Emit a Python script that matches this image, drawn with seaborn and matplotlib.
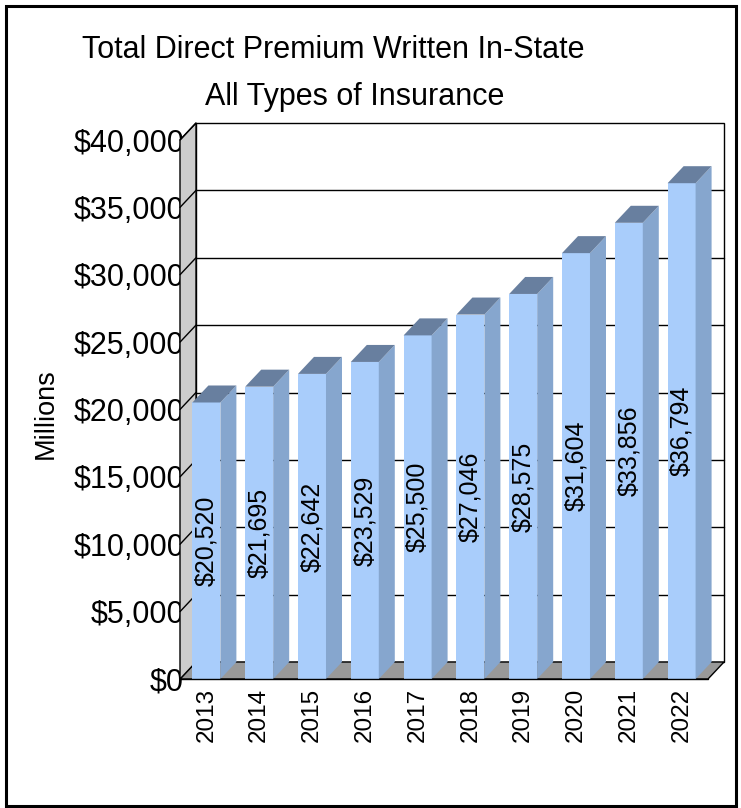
import matplotlib
matplotlib.use("Agg")
import matplotlib.pyplot as plt
from matplotlib.patches import Polygon, Rectangle
from matplotlib.lines import Line2D
import seaborn as sns
import pandas as pd

years = ["2013", "2014", "2015", "2016", "2017", "2018", "2019", "2020", "2021", "2022"]
premiums = [20520, 21695, 22642, 23529, 25500, 27046, 28575, 31604, 33856, 36794]
yticks = [0, 5000, 10000, 15000, 20000, 25000, 30000, 35000, 40000]
ytick_labels = ["$0", "$5,000", "$10,000", "$15,000", "$20,000", "$25,000", "$30,000", "$35,000", "$40,000"]
title_line1 = "Total Direct Premium Written In-State"
title_line2 = "All Types of Insurance"
ylabel = "Millions"

sns.set_style("white")
plt.rcParams["font.family"] = ["Liberation Sans", "DejaVu Sans"]
plt.rcParams["text.color"] = "black"
plt.rcParams["axes.labelcolor"] = "black"
plt.rcParams["xtick.color"] = "black"
plt.rcParams["ytick.color"] = "black"

FRONT = "#A9CDFB"
SIDE = "#86A6CE"
TOP = "#687F9F"
FLOOR = "#999999"
WALL = "#CCCCCC"

W, H = 741, 808
fig = plt.figure(figsize=(W / 100, H / 100), dpi=100)
# front plane of the 3D box in pixels: x 180..708, y 679 (0) .. 140 (40000)
ax = fig.add_axes([180 / W, (H - 679) / H, 528 / W, 539 / H])
ax.patch.set_visible(False)

df = pd.DataFrame({"year": years, "premium": premiums})
sns.barplot(data=df, x="year", y="premium", color=FRONT, saturation=1,
            width=0.53, ax=ax, edgecolor="none", linewidth=0, zorder=3)

ax.set_xlim(-0.5, len(years) - 0.5)
ax.set_ylim(0, 40000)
for s in ax.spines.values():
    s.set_visible(False)

# depth offset (16 px right, 17 px up) in data units
dxd = 16 / (528 / len(years))
dyd = 17 * 40000 / 539
x0w, x1w = -0.5, len(years) - 0.5
ymax = 40000

bar_patches = [p for p in ax.patches if isinstance(p, Rectangle)]

# back wall
ax.add_patch(Rectangle((x0w + dxd, dyd), x1w - x0w, ymax, facecolor="white",
                       edgecolor="black", lw=1, zorder=0.5, clip_on=False))
# gridlines on back wall
for t in yticks[1:-1]:
    ax.add_line(Line2D([x0w + dxd, x1w + dxd], [t + dyd, t + dyd], color="black",
                       lw=1, zorder=0.6, clip_on=False))
# floor
ax.add_patch(Polygon([(x0w, 0), (x1w, 0), (x1w + dxd, dyd), (x0w + dxd, dyd)],
                     closed=True, facecolor=FLOOR, edgecolor="black", lw=1,
                     zorder=0.7, clip_on=False))
# left wall
ax.add_patch(Polygon([(x0w, 0), (x0w, ymax), (x0w + dxd, ymax + dyd), (x0w + dxd, dyd)],
                     closed=True, facecolor=WALL, edgecolor="black", lw=1,
                     zorder=2.6, clip_on=False))
for t in yticks[1:]:
    ax.add_line(Line2D([x0w, x0w + dxd], [t, t + dyd], color="black",
                       lw=1, zorder=2.7, clip_on=False))

# 3D faces of bars
for p in bar_patches:
    bx0 = p.get_x()
    bx1 = bx0 + p.get_width()
    h = p.get_height()
    ax.add_patch(Polygon([(bx1, 0), (bx1 + dxd, dyd), (bx1 + dxd, h + dyd), (bx1, h)],
                         closed=True, facecolor=SIDE, edgecolor="none", zorder=3,
                         clip_on=False))
    ax.add_patch(Polygon([(bx0, h), (bx1, h), (bx1 + dxd, h + dyd), (bx0 + dxd, h + dyd)],
                         closed=True, facecolor=TOP, edgecolor="none", zorder=3,
                         clip_on=False))
    p.set_clip_on(False)

ax.add_line(Line2D([x0w, x1w], [0, 0], color="black", lw=1, zorder=3.5, clip_on=False))

# value labels
for i, v in enumerate(premiums):
    ax.text(i, v / 2, f"${v:,}", rotation=90, ha="center", va="center",
            fontsize=18, color="black", zorder=4)

ax.set_yticks(yticks)
ax.set_yticklabels(ytick_labels, fontsize=22)
ax.tick_params(axis="y", length=0, pad=-3)
ax.tick_params(axis="x", length=0, pad=6.5, labelsize=17.5, labelrotation=90)
ax.set_xlabel("")
ax.set_ylabel(ylabel, fontsize=19.5, ha="center", va="center")
ax.yaxis.set_label_coords((46 - 180) / 528, (679 - 414) / 539)

fig.text(333 / W, (H - 58) / H, title_line1, ha="center", va="baseline", fontsize=22)
fig.text(354.5 / W, (H - 105) / H, title_line2, ha="center", va="baseline", fontsize=22)

# outer frame
fig.patches.append(Rectangle((5.5 / W, 2.5 / H), 730 / W, 800 / H, transform=fig.transFigure,
                             fill=False, edgecolor="black", lw=2.2))

fig.savefig("out.png", dpi=100)
